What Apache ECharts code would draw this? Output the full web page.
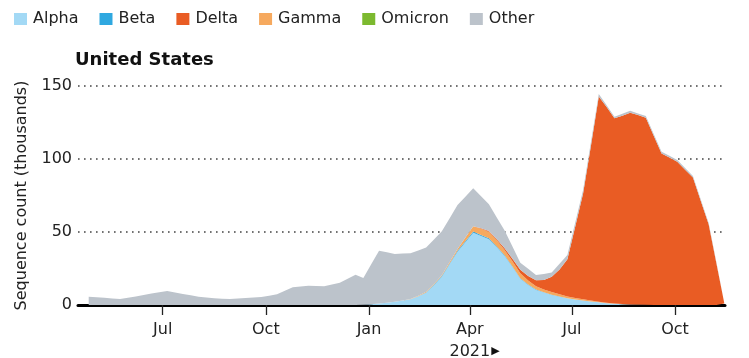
<!DOCTYPE html>
<html>
<head>
<meta charset="utf-8">
<script src="https://cdn.jsdelivr.net/npm/echarts@6/dist/echarts.min.js"></script>
<style>
html,body{margin:0;padding:0;background:#fff;}
#chart{width:749px;height:358px;}
</style>
</head>
<body>
<div id="chart"></div>
<script>
// Weekly sequence counts (thousands), first week 2020-04-26, one value per week
const firstWeek = [2020, 3, 26];
const legendOrder = ['Alpha', 'Beta', 'Delta', 'Gamma', 'Omicron', 'Other'];
const tickMonths = {0: 'Jan', 3: 'Apr', 6: 'Jul', 9: 'Oct'};
const yTicks = [0, 50, 100, 150];

const alpha = [
  0,0,0,0,0,0,0,0,0,0, 0,0,0,0,0,0,0,0,0,0,
  0,0,0,0,0,0,0,0,0,0, 0,0,0,0,0,0.2,0.5,1.0,1.6,2.3,
  3.0,3.9,6.0,8.4,13.5,19.4,28,36.5,43,49.5, 47.3,45,39.5,33.6,26,18,13.7,10.3,8.5,6.8,
  5.7,4.6,3.8,3.0,2.4,1.8,1.2,0.8,0.5,0.3, 0.2,0.1,0,0,0,0,0,0,0,0,
  0,0
];
const beta = [
  0,0,0,0,0,0,0,0,0,0, 0,0,0,0,0,0,0,0,0,0,
  0,0,0,0,0,0,0,0,0,0, 0,0,0,0,0,0,0,0,0,0,
  0,0,0,0.2,0.3,0.4,0.5,0.6,0.7,0.8, 0.7,0.7,0.6,0.5,0.4,0.4,0.3,0.3,0.2,0.2,
  0.1,0.1,0,0,0,0,0,0,0,0, 0,0,0,0,0,0,0,0,0,0,
  0,0
];
const gamma = [
  0,0,0,0,0,0,0,0,0,0, 0,0,0,0,0,0,0,0,0,0,
  0,0,0,0,0,0,0,0,0,0, 0,0,0,0,0,0,0,0,0,0,
  0.1,0.2,0.3,0.4,0.5,0.6,0.9,1.2,2.5,3.6, 4.2,4.5,4.2,3.5,3.5,3.3,2.7,2.2,2.0,1.9,
  1.5,1.1,1.0,0.9,0.7,0.5,0.4,0.3,0.2,0.1, 0.1,0,0,0,0,0,0,0,0,0,
  0,0
];
const delta = [
  0,0,0,0,0,0,0,0,0,0, 0,0,0,0,0,0,0,0,0,0,
  0,0,0,0,0,0,0,0,0,0, 0,0,0,0,0,0,0,0,0,0,
  0,0,0,0,0,0,0,0,0,0.1, 0.3,0.5,0.8,1.2,1.8,2.5,3.2,4.2,6.5,10.5,
  17,25.5,49,72.5,106,140.5,134,126.8,129,131.3, 129.8,128.2,116,103.8,101,98.1,92.7,87.3,71.3,55.3,
  28.2,1.0
];
const omicron = [
  0,0,0,0,0,0,0,0,0,0, 0,0,0,0,0,0,0,0,0,0,
  0,0,0,0,0,0,0,0,0,0, 0,0,0,0,0,0,0,0,0,0,
  0,0,0,0,0,0,0,0,0,0, 0,0,0,0,0,0,0,0,0,0,
  0,0,0,0,0,0,0,0,0,0, 0,0,0,0,0,0,0,0,0,0,
  0,0
];
const other = [
  5.7,5.3,4.9,4.5,4.1,5.0,5.9,6.9,7.8,8.7, 9.6,8.6,7.6,6.7,5.7,5.2,4.6,4.3,4.1,4.4,
  4.8,5.1,5.5,6.4,7.3,9.7,12.1,12.7,13.2,13.0, 12.8,14.0,15.3,18.0,20.8,18.3,27.4,36.2,34.5,32.7,
  32.1,31.3,31.0,30.3,30.6,30.1,30.1,30.2,28.0,26.0, 22.0,18.3,14.9,12.2,8.3,4.8,4.9,3.5,4.1,2.8,
  3.9,2.9,2.7,2.4,2.5,1.7,1.2,1.1,1.3,1.3, 1.1,1.2,1.2,1.2,1.2,1.2,1.1,1.1,1.0,0.9,
  0.7,0.6
];

const colors = {
  Alpha: '#a3d9f5', Beta: '#2fa8e0', Delta: '#e95c24',
  Gamma: '#f6a95e', Omicron: '#7cb92f', Other: '#bcc3cb'
};

const weeks = alpha.map((_, i) => new Date(firstWeek[0], firstWeek[1], firstWeek[2] + 7 * i).getTime());
const pair = arr => arr.map((v, i) => [weeks[i], v]);

const stackOrder = [
  ['Alpha', alpha], ['Beta', beta], ['Gamma', gamma],
  ['Delta', delta], ['Omicron', omicron], ['Other', other]
];

const FONT = 'DejaVu Sans';
const chart = echarts.init(document.getElementById('chart'), null, {renderer: 'canvas'});
const DAY = 86400000;

chart.setOption({
  animation: false,
  backgroundColor: '#fff',
  textStyle: {fontFamily: FONT},
  title: {
    text: 'United States',
    left: 75, top: 51, padding: 0,
    textStyle: {fontFamily: FONT, fontWeight: 'bold', fontSize: 18, color: '#111'}
  },
  legend: {
    data: legendOrder,
    left: 14, top: 11, padding: 0,
    icon: 'rect', itemWidth: 13, itemHeight: 12, itemGap: 21,
    textStyle: {fontFamily: FONT, fontSize: 16, color: '#222', lineHeight: 16, padding: [0, 0, 0, 1]}
  },
  grid: {left: 78, right: 24, top: 86, bottom: 53, containLabel: false, outerBoundsMode: 'none'},
  xAxis: {
    type: 'time',
    min: new Date(2020, 3, 16, 11).getTime(),
    max: new Date(2021, 10, 14, 14).getTime(),
    splitNumber: 6,
    minInterval: 92 * DAY,
    maxInterval: 92 * DAY,
    axisLine: {show: true, onZero: false, lineStyle: {color: '#000', width: 3}},
    axisTick: {show: true, length: 10, lineStyle: {color: '#222', width: 1.3}},
    splitLine: {show: false},
    axisLabel: {
      fontFamily: FONT, fontSize: 16, color: '#222', margin: 14, lineHeight: 21,
      showMinLabel: false, showMaxLabel: false,
      formatter: function (value) {
        const d = new Date(value);
        const m = tickMonths[d.getMonth()];
        if (!m) return '';
        if (m === 'Apr' && d.getFullYear() === 2021) {
          return 'Apr\n{pad|▶}{yr|2021}{ar|▶}';
        }
        return m;
      },
      rich: {
        yr: {fontFamily: FONT, fontSize: 16, color: '#222', lineHeight: 23},
        ar: {fontFamily: FONT, fontSize: 11, color: '#111', lineHeight: 23, padding: [0, 0, 0, 1]},
        pad: {fontFamily: FONT, fontSize: 11, color: 'rgba(0,0,0,0)', lineHeight: 23, padding: [0, 1, 0, 0]}
      }
    }
  },
  yAxis: {
    type: 'value',
    min: yTicks[0], max: yTicks[yTicks.length - 1], interval: 50,
    name: 'Sequence count (thousands)',
    nameLocation: 'middle', nameRotate: 90, nameGap: 48,
    nameTextStyle: {fontFamily: FONT, fontSize: 16, color: '#222'},
    axisLine: {show: false},
    axisTick: {show: false},
    axisLabel: {fontFamily: FONT, fontSize: 16, color: '#222', margin: 6},
    splitLine: {show: true, lineStyle: {color: '#444', width: 1.6, type: [1.6, 4.4]}}
  },
  series: stackOrder.map(([name, arr]) => ({
    name: name,
    type: 'line',
    stack: 'total',
    data: pair(arr),
    showSymbol: false,
    symbol: 'none',
    lineStyle: {width: 0},
    itemStyle: {color: colors[name]},
    areaStyle: {color: colors[name], opacity: 1},
    emphasis: {disabled: true}
  }))
});
</script>
</body>
</html>
